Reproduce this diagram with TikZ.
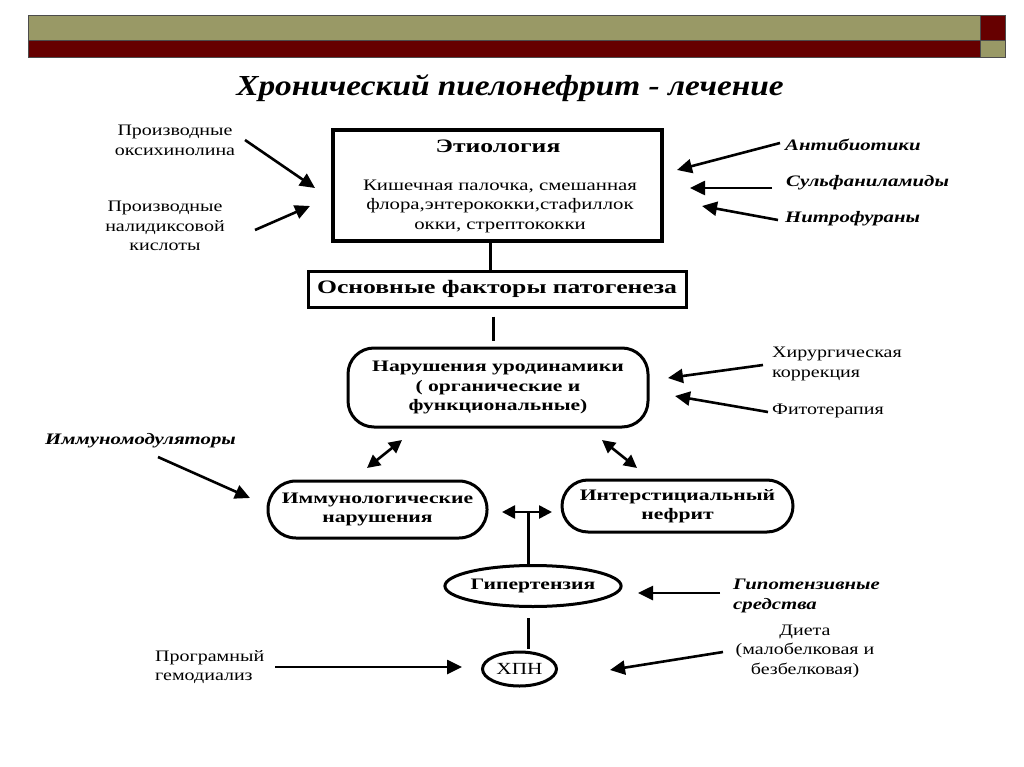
\documentclass[tikz,border=0pt]{standalone}
\usepackage{fontspec}
\setmainfont{Liberation Serif}
\newfontfamily\regw[FakeStretch=1.25]{Liberation Serif}
\newfontfamily\bodyw[FakeStretch=1.3]{Liberation Serif}
\newfontfamily\boldw[FakeStretch=1.35]{Liberation Serif}
\newfontfamily\itw[FakeStretch=1.3]{Liberation Serif}
\newfontfamily\titw[FakeStretch=1.15]{Liberation Serif}
\usetikzlibrary{arrows.meta,shapes.geometric}
\definecolor{olivebar}{RGB}{153,153,102}
\definecolor{darkredbar}{RGB}{102,0,0}
\tikzset{
  lbl/.style={font=\regw\fontsize{16}{19.5}\selectfont, align=center, inner sep=0pt},
  lbll/.style={lbl, align=left},
  itl/.style={font=\itw\bfseries\itshape\fontsize{16}{20}\selectfont, align=left, inner sep=0pt, anchor=west},
  bld/.style={font=\boldw\bfseries\fontsize{16}{19.5}\selectfont, align=center, inner sep=0pt},
  bigbld/.style={font=\boldw\bfseries\fontsize{19}{22}\selectfont, align=center, inner sep=0pt},
  sqbox/.style={draw, line width=4pt, inner sep=0pt},
  rbox/.style={draw, line width=3pt, inner sep=0pt, bld},
  ell/.style={draw, ellipse, line width=3pt, inner sep=0pt, bld},
  arr/.style={line width=2.6pt, -{Triangle[length=15pt,width=14pt]}},
  dbl/.style={line width=2.6pt, {Triangle[length=13pt,width=13pt]}-{Triangle[length=13pt,width=13pt]}},
  link/.style={line width=3pt}
}
\begin{document}
\begin{tikzpicture}[x=1pt,y=-1pt]
\useasboundingbox[fill=white] (0,0) rectangle (1024,767);
% header bars
\fill[olivebar] (28,15) rectangle (980,40);
\fill[darkredbar] (28,40) rectangle (980,57);
\fill[darkredbar] (980,15) rectangle (1005,40);
\fill[olivebar] (980,40) rectangle (1005,57);
\draw[line width=0.8pt, black!70] (28,15) rectangle (1005,57);
\draw[line width=0.8pt, black!70] (28,40) -- (1005,40) (980,15) -- (980,57);
% title
\node[font=\titw\bfseries\itshape\fontsize{29}{32}\selectfont, inner sep=0pt] (title) at (510,88) {Хронический пиелонефрит - лечение};

% main boxes
\node[sqbox, minimum width=329pt, minimum height=111pt] (etio) at (497.5,185.5) {};
\node[bigbld] (etiot) at (498,146) {Этиология};
\node[font=\bodyw\fontsize{16}{19.5}\selectfont, align=center, inner sep=0pt] (etiob) at (500,206) {Кишечная палочка, смешанная\\флора,энтерококки,стафиллок\\окки, стрептококки};
\node[draw, line width=3pt, bigbld, minimum width=378pt, minimum height=36pt] (path) at (497,289) {Основные факторы патогенеза};
\node[rbox, rounded corners=26pt, minimum width=300pt, minimum height=79pt] (uro) at (498,387.5) {Нарушения уродинамики\\( органические и\\функциональные)};
\node[rbox, rounded corners=28pt, minimum width=219pt, minimum height=57pt] (imm) at (377.5,509.5) {Иммунологические\\нарушения};
\node[rbox, rounded corners=26pt, minimum width=231pt, minimum height=52pt] (inter) at (677.5,506) {Интерстициальный\\нефрит};
\node[ell, minimum width=158pt, minimum height=41pt] (hyp) at (533,586) {Гипертензия};
\node[ell, minimum width=74pt, minimum height=34pt, font=\regw\fontsize{17}{20}\selectfont] (hpn) at (519.5,669) {ХПН};

% vertical links
\draw[link] (etio.south -| 490,0) -- (path.north -| 490,0);
\draw[link, shorten <=8pt, shorten >=6pt] (path.south -| 493,0) -- (uro.north -| 493,0);

% double arrows
\coordinate (dl1) at (402,440); \coordinate (dl2) at (367,468);
\coordinate (dr1) at (602,440); \coordinate (dr2) at (637,468);
\coordinate (dh1) at (502,512); \coordinate (dh2) at (552,512);
\draw[dbl] (dl1) -- (dl2);
\draw[dbl] (dr1) -- (dr2);
\draw[dbl] (dh1) -- (dh2);
\coordinate (mid) at (528.5,512);
\draw[link] (mid) -- (mid |- hyp.north);
\draw[link, shorten <=10pt, shorten >=2pt] (hyp.south -| 528.5,0) -- (hpn.north -| 528.5,0);

% left labels
\node[lbl] (oxy) at (175,140.5) {Производные\\оксихинолина};
\node[lbl] (nal) at (165,226) {Производные\\налидиксовой\\кислоты};
\coordinate (oxyA) at (245,140); \coordinate (oxyB) at (315,188);
\coordinate (nalA) at (255,230); \coordinate (nalB) at (310,206);
\draw[arr] (oxyA) -- (oxyB);
\draw[arr] (nalA) -- (nalB);

% right top labels
\node[itl] (antib) at (785,145) {Антибиотики};
\node[itl] (sulf) at (786,183) {Сульфаниламиды};
\node[itl] (nitro) at (785,219) {Нитрофураны};
\coordinate (abA) at (780,143); \coordinate (abB) at (677,170);
\coordinate (suA) at (772,188); \coordinate (suB) at (690,188);
\coordinate (niA) at (778,220); \coordinate (niB) at (702,206);
\draw[arr] (abA) -- (abB);
\draw[arr] (suA) -- (suB);
\draw[arr] (niA) -- (niB);

% urodynamics treatments
\node[lbll, anchor=west] (hir) at (772,364) {Хирургическая\\коррекция};
\node[lbll, anchor=west] (fito) at (772,411) {Фитотерапия};
\coordinate (hiA) at (763,365); \coordinate (hiB) at (668,378);
\coordinate (fiA) at (768,412); \coordinate (fiB) at (675,396);
\draw[arr] (hiA) -- (hiB);
\draw[arr] (fiA) -- (fiB);

% immunomodulators
\node[itl] (imod) at (45,441) {Иммуномодуляторы};
\coordinate (imA) at (158,457); \coordinate (imB) at (250,498);
\draw[arr] (imA) -- (imB);

% hypotensive
\node[itl] (hypo) at (733,596) {Гипотензивные\\средства};
\coordinate (hoA) at (720,593); \coordinate (hoB) at (638,593);
\draw[arr] (hoA) -- (hoB);

% diet
\node[lbl] (diet) at (805,651) {Диета\\(малобелковая и\\безбелковая)};
\coordinate (deA) at (723,652); \coordinate (deB) at (610,670);
\draw[arr] (deA) -- (deB);

% dialysis
\node[lbll, anchor=west] (prog) at (155,667) {Програмный\\гемодиализ};
\coordinate (prA) at (275,667); \coordinate (prB) at (462,667);
\draw[arr] (prA) -- (prB);
\end{tikzpicture}
\end{document}
